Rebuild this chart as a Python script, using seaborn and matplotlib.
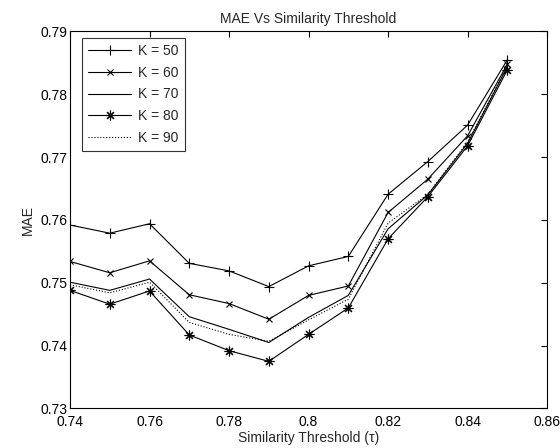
import numpy as np
import pandas as pd
import seaborn as sns
import matplotlib.pyplot as plt

sns.set_style("white")
plt.rcParams['font.family'] = ['Liberation Sans', 'DejaVu Sans']

# thresholds and MAE values per K
thresholds = [0.74, 0.75, 0.76, 0.77, 0.78, 0.79, 0.80, 0.81, 0.82, 0.83, 0.84, 0.85]
mae_k50 = [0.7592, 0.7579, 0.7594, 0.7531, 0.7519, 0.7494, 0.7527, 0.7542, 0.7641, 0.7693, 0.7751, 0.7855]
mae_k60 = [0.7534, 0.7516, 0.7535, 0.7481, 0.7467, 0.7442, 0.7480, 0.7495, 0.7612, 0.7665, 0.7734, 0.7848]
mae_k70 = [0.7501, 0.7488, 0.7506, 0.7446, 0.7426, 0.7405, 0.7445, 0.7480, 0.7586, 0.7640, 0.7722, 0.7844]
mae_k80 = [0.7488, 0.7466, 0.7487, 0.7417, 0.7392, 0.7375, 0.7418, 0.7460, 0.7570, 0.7637, 0.7718, 0.7839]
mae_k90 = [0.7497, 0.7484, 0.7501, 0.7437, 0.7418, 0.7407, 0.7441, 0.7474, 0.7595, 0.7641, 0.7724, 0.7845]

# label, values, marker, marker size, line style
series = [
    ("K = 50", mae_k50, '+', 7, '-'),
    ("K = 60", mae_k60, 'x', 5, '-'),
    ("K = 70", mae_k70, None, 0, '-'),
    ("K = 80", mae_k80, (8, 2, 0), 7, '-'),
    ("K = 90", mae_k90, None, 0, ':'),
]

fig = plt.figure(figsize=(5.6, 4.48), dpi=100)
ax = fig.add_axes([0.125, 0.0882, 0.852, 0.8415])

for label, vals, mk, ms, ls in series:
    sns.lineplot(x=thresholds, y=vals, ax=ax, label=label, color='black',
                 linewidth=0.8, linestyle=ls, marker=mk, markersize=ms,
                 markeredgewidth=0.8, markeredgecolor='black', markerfacecolor='none')

ax.set_xlim(0.74, 0.86)
ax.set_ylim(0.73, 0.79)
ax.set_xticks([0.74, 0.76, 0.78, 0.8, 0.82, 0.84, 0.86])
ax.set_xticklabels(['0.74', '0.76', '0.78', '0.8', '0.82', '0.84', '0.86'])
ax.set_yticks([0.73, 0.74, 0.75, 0.76, 0.77, 0.78, 0.79])
ax.set_yticklabels(['0.73', '0.74', '0.75', '0.76', '0.77', '0.78', '0.79'])
ax.tick_params(direction='in', length=4, width=0.8, top=True, right=True,
               labelsize=10, pad=2, colors='black')
ax.tick_params(axis='x', pad=5)
for sp in ax.spines.values():
    sp.set_color('black')
    sp.set_linewidth(0.8)

ax.set_title("MAE Vs Similarity Threshold", fontsize=10, pad=6)
ax.set_xlabel("Similarity Threshold (\u03c4)", fontsize=10, labelpad=1)
ax.set_ylabel("MAE", fontsize=10, labelpad=4)

leg = ax.legend(loc='upper left', fontsize=10, handlelength=3.1, frameon=True,
                fancybox=False, edgecolor='black', borderpad=0.45, labelspacing=0.55,
                handletextpad=0.5, bbox_to_anchor=(0.025, 0.983), borderaxespad=0)
leg.get_frame().set_linewidth(0.8)

fig.savefig("out.png", dpi=100)
